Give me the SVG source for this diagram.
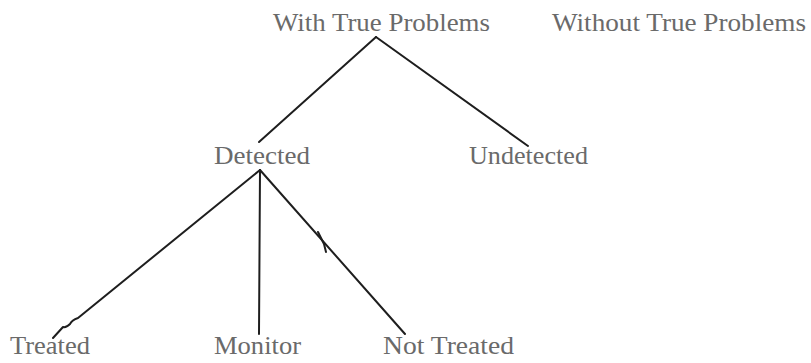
<svg xmlns="http://www.w3.org/2000/svg" width="811" height="363" viewBox="0 0 811 363">
<style>
.t{font-family:"Liberation Serif","Times New Roman",serif;font-size:26px;fill:#6a6a6a}
.c{fill:none;stroke:#1e1e1e;stroke-width:2;stroke-linecap:round;stroke-linejoin:round}
</style>
<rect width="811" height="363" fill="#ffffff"/>
<g id="connectors">
<path class="c" d="M376 37 L259 142"/>
<path class="c" d="M376 37 L528 146"/>
<path class="c" d="M260 170 L78 318 Q72 320 70 324 Q66 328 63 327 L53 338"/>
<path class="c" d="M260 170 L259 334"/>
<path class="c" d="M260 170 L405 334"/>
<path class="c" d="M318 232 L324 244 L326 252" stroke-width="1.5"/>
</g>
<g id="with-true-problems"><text class="t" x="273" y="31" textLength="217" lengthAdjust="spacingAndGlyphs">With True Problems</text></g>
<g id="without-true-problems"><text class="t" x="552" y="31" textLength="254" lengthAdjust="spacingAndGlyphs">Without True Problems</text></g>
<g id="detected"><text class="t" x="214" y="164" textLength="96" lengthAdjust="spacingAndGlyphs">Detected</text></g>
<g id="undetected"><text class="t" x="469" y="164" textLength="119" lengthAdjust="spacingAndGlyphs">Undetected</text></g>
<g id="treated"><text class="t" x="10" y="354" textLength="80" lengthAdjust="spacingAndGlyphs">Treated</text></g>
<g id="monitor"><text class="t" x="214" y="354" textLength="87" lengthAdjust="spacingAndGlyphs">Monitor</text></g>
<g id="not-treated"><text class="t" x="383" y="354" textLength="131" lengthAdjust="spacingAndGlyphs">Not Treated</text></g>
</svg>
